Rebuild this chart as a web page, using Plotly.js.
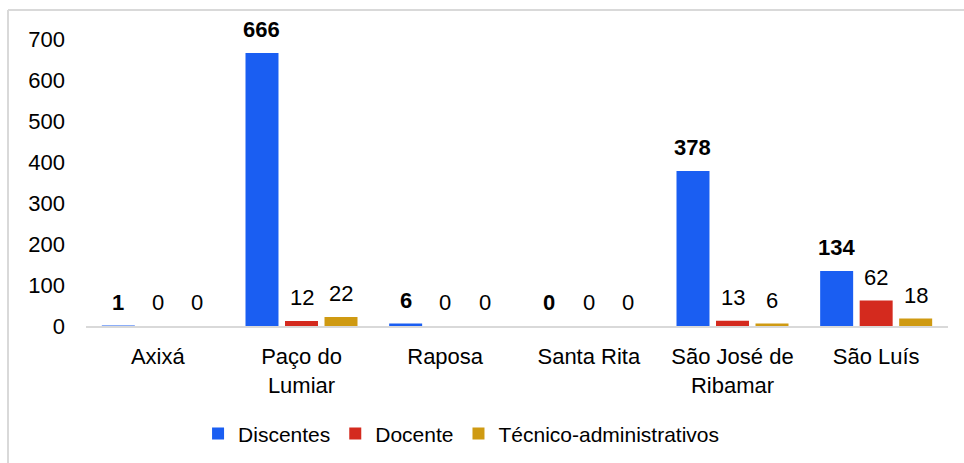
<!DOCTYPE html>
<html><head><meta charset="utf-8">
<script src="https://cdn.plot.ly/plotly-3.0.1.min.js"></script>
<style>html,body{margin:0;padding:0;background:#fff;}#chart{width:964px;height:463px;}</style>
</head><body><div id="chart"></div>
<script>
var categories = ["Axixá", "Paço do<br>Lumiar", "Raposa", "Santa Rita", "São José de<br>Ribamar", "São Luís"];
var seriesNames = ["Discentes", "Docente", "Técnico-administrativos"];
var discentes = [1, 666, 6, 0, 378, 134];
var docente = [0, 12, 0, 0, 13, 62];
var tecnico = [0, 22, 0, 0, 6, 18];
var yTicks = [0, 100, 200, 300, 400, 500, 600, 700];
var colors = ["#1a5ef2", "#d42a1e", "#cf9a12"];

var series = [discentes, docente, tecnico];
var bargap = 0.175, bargroupgap = 0.165;
var slot = (1 - bargap) / 3;
var FONT = "Liberation Sans, Arial, sans-serif";

var traces = series.map(function (vals, j) {
  return {
    type: "bar", name: seriesNames[j], x: categories, y: vals,
    marker: {color: colors[j]}, hoverinfo: "none"
  };
});

var annotations = [];
series.forEach(function (vals, j) {
  vals.forEach(function (v, i) {
    annotations.push({
      x: i + (j - 1) * slot, y: v, xref: "x", yref: "y",
      text: j === 0 ? "<b>" + v + "</b>" : String(v),
      showarrow: false, yanchor: "bottom", yshift: 9,
      font: {family: FONT, size: 22, color: "#000"}
    });
  });
});

var layout = {
  width: 964, height: 463,
  margin: {l: 86, r: 16, t: 39, b: 137, autoexpand: false},
  paper_bgcolor: "#fff", plot_bgcolor: "#fff",
  barmode: "group", bargap: bargap, bargroupgap: bargroupgap,
  font: {family: FONT, size: 22, color: "#000"},
  xaxis: {
    type: "category", showline: true, linecolor: "#d9d9d9", linewidth: 2,
    showgrid: false, ticks: "", ticklabelstandoff: 10, automargin: false,
    tickfont: {family: FONT, size: 22, color: "#000"}
  },
  yaxis: {
    range: [0, 700], tickvals: yTicks, ticktext: yTicks.map(String),
    showgrid: false, zeroline: false, showline: false, ticks: "",
    ticklabelstandoff: 20, automargin: false,
    tickfont: {family: FONT, size: 22, color: "#000"}
  },
  showlegend: true,
  legend: {
    orientation: "h", x: 0.130, xanchor: "left", y: -0.376, yanchor: "middle",
    font: {family: FONT, size: 21, color: "#000"}, traceorder: "normal"
  },
  annotations: annotations,
  shapes: [
    {type: "line", xref: "paper", yref: "paper", x0: -0.0905, x1: -0.0905, y0: 1.101, y1: -0.6, line: {color: "#d9d9d9", width: 2}},
    {type: "line", xref: "paper", yref: "paper", x0: -0.0905, x1: 1.1, y0: 1.101, y1: 1.101, line: {color: "#d9d9d9", width: 2}}
  ]
};

Plotly.newPlot("chart", traces, layout, {displayModeBar: false, staticPlot: true});
</script>
</body></html>
